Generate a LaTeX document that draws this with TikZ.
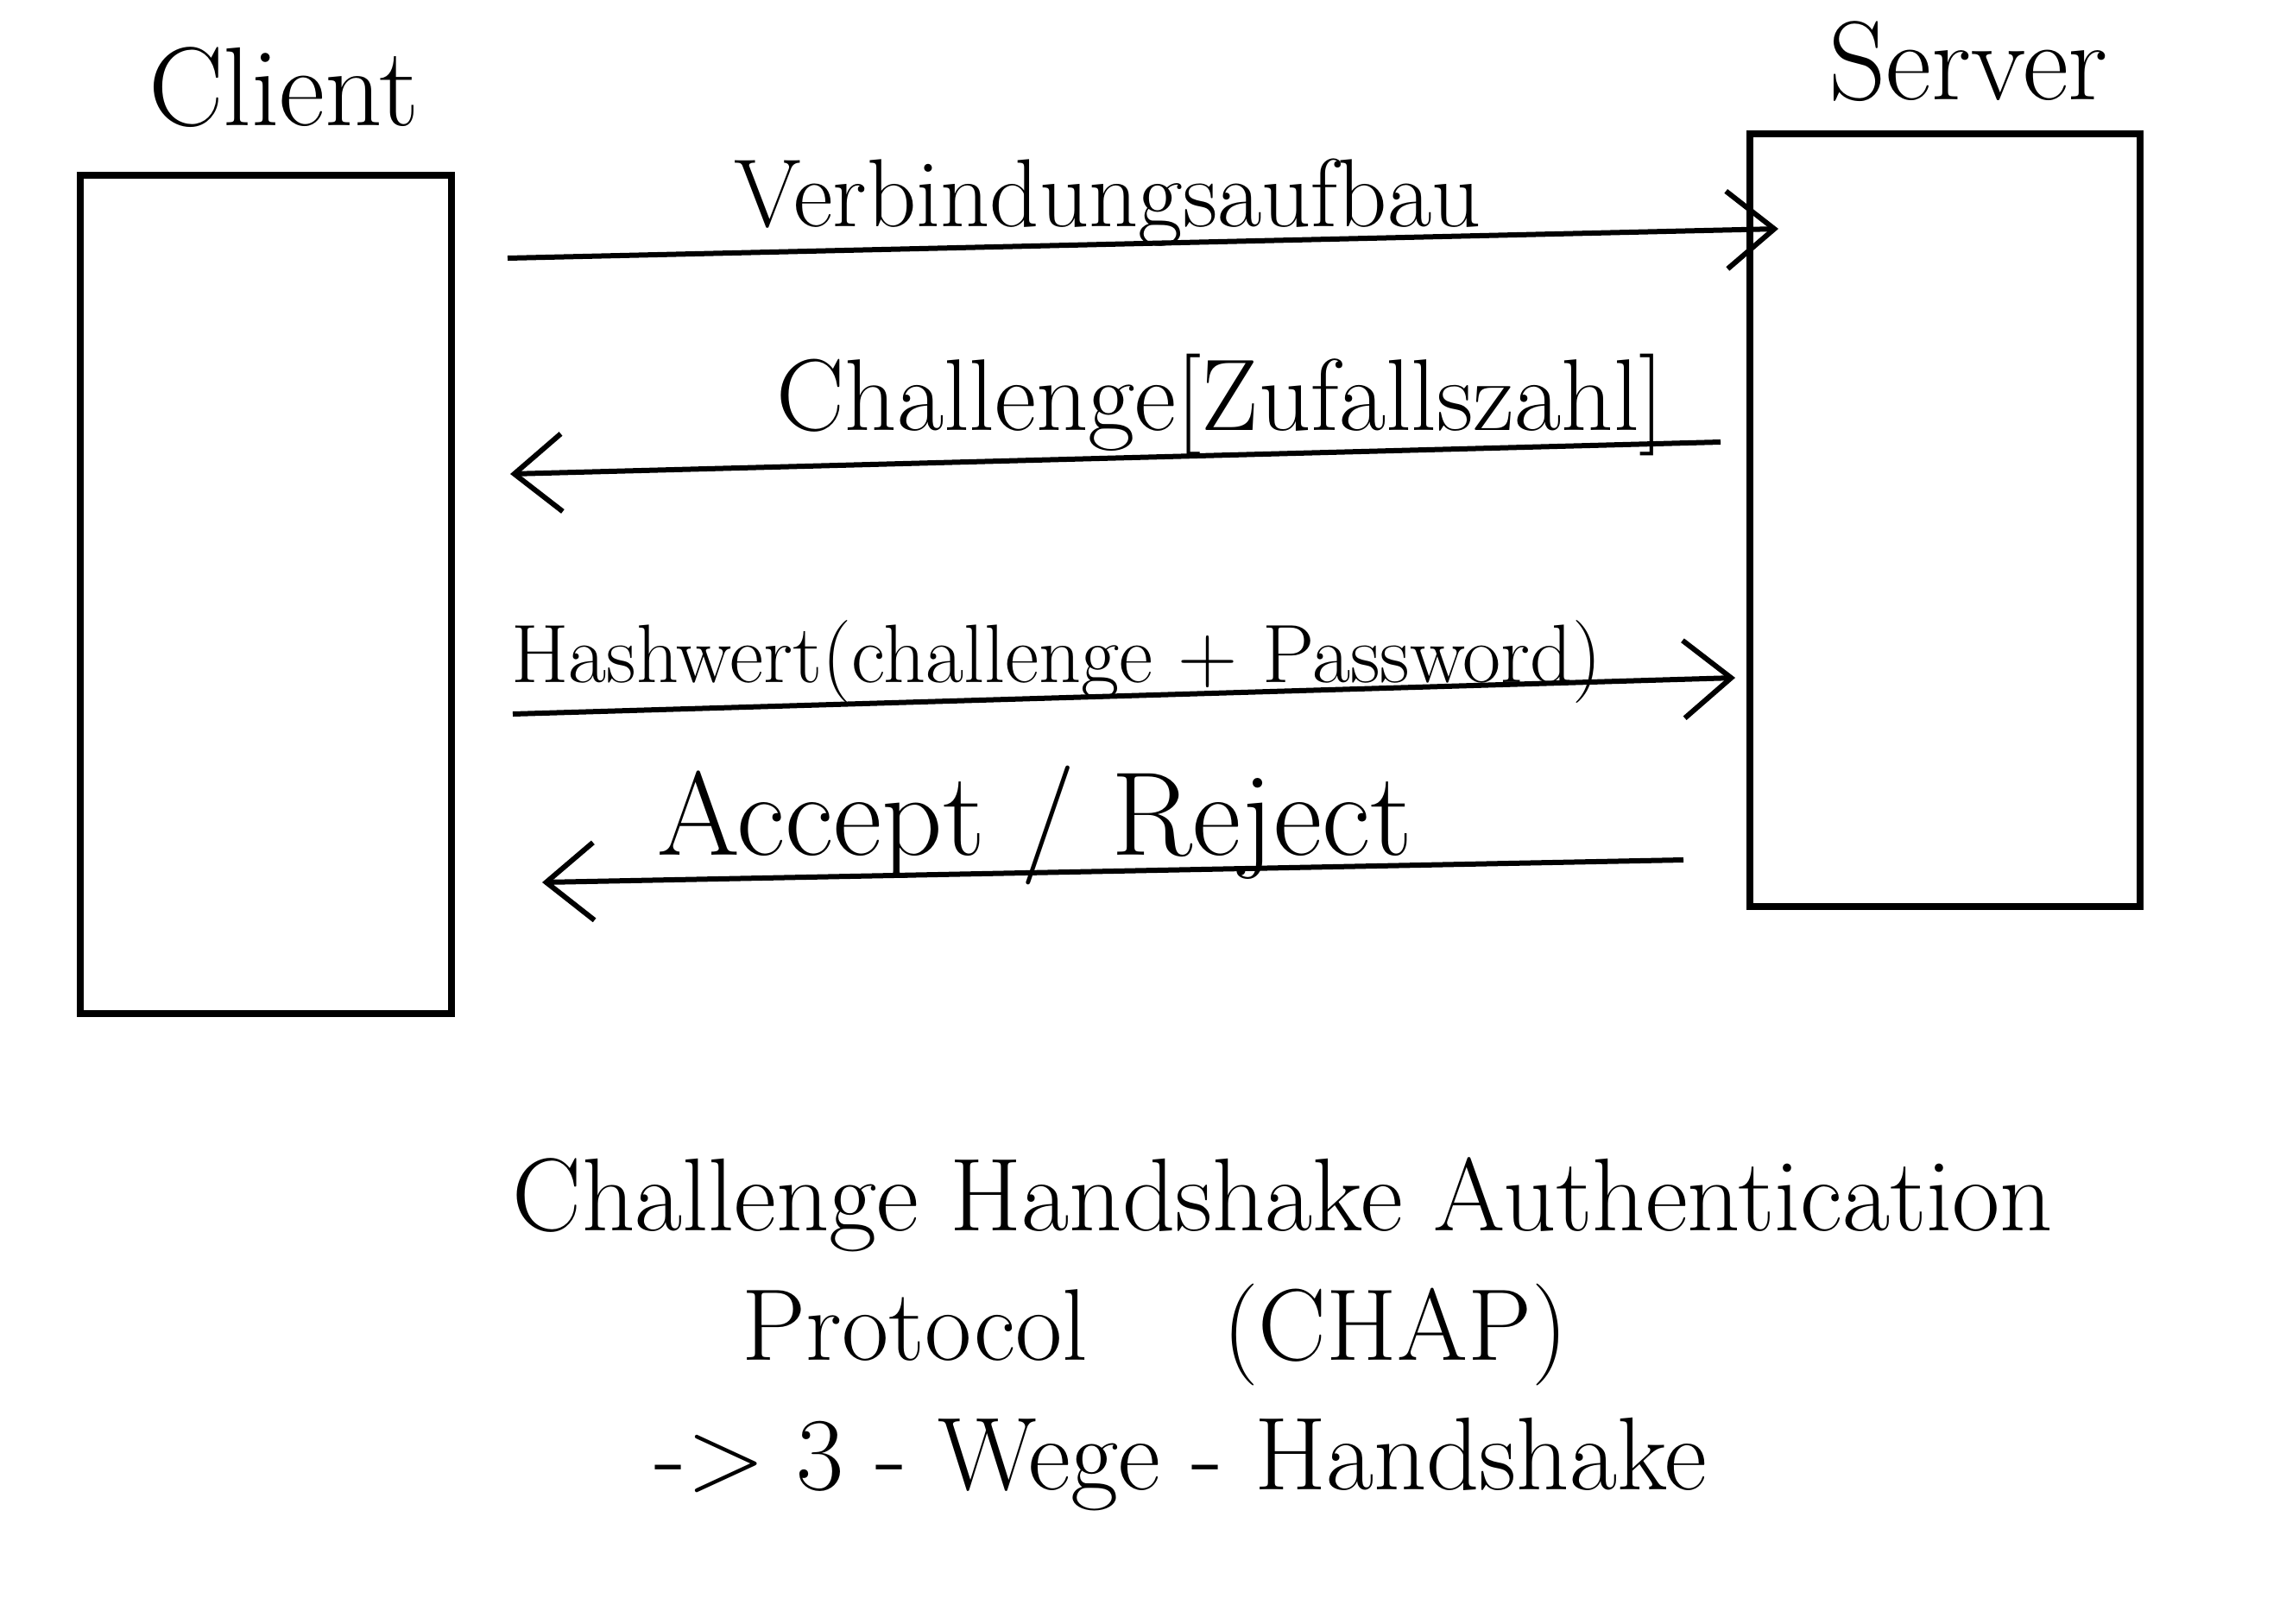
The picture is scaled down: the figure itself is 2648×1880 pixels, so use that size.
\documentclass[tikz,border=0pt]{standalone}
\usetikzlibrary{arrows.meta}
\begin{document}
\begin{tikzpicture}[x=1pt,y=-1pt,
  box/.style={draw,line width=8pt,inner sep=0pt},
  msg/.style={line width=6pt,-{Straight Barb[length=55pt,width=90pt,line width=6pt]}},
  lbl/.style={inner sep=0pt,font=\fontsize{#1}{#1}\selectfont},
  lbl/.default=110]
\useasboundingbox (0,0) rectangle (2648,1880);
% boxes
\node[box,minimum width=430pt,minimum height=971pt] (client) at (308,688) {};
\node[box,minimum width=452pt,minimum height=895pt] (server) at (2253,602) {};
\node[lbl=130] (clientlbl) at (329,101) {Client};
\node[lbl=130] (serverlbl) at (2280,71) {Server};
% messages
\coordinate (a1s) at (588,299); \coordinate (a1e) at (2060,265);
\coordinate (a2s) at (1993,512); \coordinate (a2e) at (591,549);
\coordinate (a3s) at (594,827); \coordinate (a3e) at (2010,785);
\coordinate (a4s) at (1950,996); \coordinate (a4e) at (628,1022);
\draw[msg] (a1s) -- (a1e);
\draw[msg] (a2s) -- (a2e);
\draw[msg] (a3s) -- (a3e);
\draw[msg] (a4s) -- (a4e);
\node[lbl=112,anchor=base] (l1) at (1283,262) {Verbindungsaufbau};
\node[lbl=118,anchor=base] (l2) at (1414,498) {Challenge[Zufallszahl]};
\node[lbl=96,anchor=base] (l3) at (1224,790) {Hashwert(challenge + Password)};
\node[lbl=138,anchor=base] (l4) at (1199,990) {Accept / Reject};
% caption
\node[lbl=120,anchor=base] (c1) at (1486,1425) {Challenge Handshake Authentication};
\node[lbl=118,anchor=base] (c2) at (1338,1575) {Protocol \hspace{120pt}(CHAP)};
\node[lbl=120,anchor=base] (c3) at (1368,1725) {-> 3 - Wege - Handshake};
\end{tikzpicture}
\end{document}
